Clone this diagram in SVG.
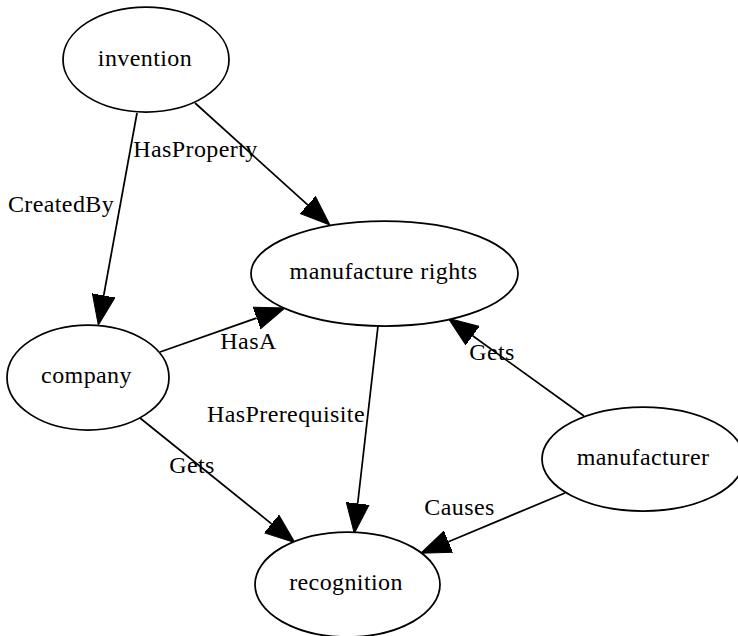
<svg xmlns="http://www.w3.org/2000/svg" width="738" height="636" viewBox="0 0 738 636">
<style>
.node ellipse{fill:#fff;stroke:#000;stroke-width:1.75}
text{font-family:"Liberation Serif","Times New Roman",serif;font-size:24px;letter-spacing:0.4px;text-anchor:middle;fill:#000}
.edge line{stroke:#000;stroke-width:1.75;fill:none;marker-end:url(#arr)}
</style>
<defs>
<marker id="arr" markerUnits="userSpaceOnUse" markerWidth="32" markerHeight="24" viewBox="0 -12 32 24" refX="0" refY="0" orient="auto">
<path d="M0,-11.5 L30,0 L0,11.5 Z" fill="#000" stroke="#000" stroke-width="1"/>
</marker>
</defs>
<rect width="738" height="636" fill="#fff"/>
<g id="edges" class="edge">
<line x1="137" y1="113" x2="103.7" y2="295.5"/>
<line x1="195" y1="103" x2="307.7" y2="204.9"/>
<line x1="160" y1="352" x2="256.7" y2="318"/>
<line x1="378" y1="326" x2="357.7" y2="503.5"/>
<line x1="140" y1="418" x2="271.6" y2="523.9"/>
<line x1="584" y1="416" x2="472.6" y2="335.8"/>
<line x1="565" y1="493" x2="448.4" y2="541.7"/>
<text x="61" y="212">CreatedBy</text>
<text x="195.5" y="157">HasProperty</text>
<text x="248.5" y="349">HasA</text>
<text x="286" y="422">HasPrerequisite</text>
<text x="192" y="473">Gets</text>
<text x="492" y="360">Gets</text>
<text x="459.5" y="515">Causes</text>
</g>
<g id="invention" class="node">
<ellipse cx="146" cy="59.5" rx="83" ry="52.5"/>
<text x="145" y="66">invention</text>
</g>
<g id="manufacture_rights" class="node">
<ellipse cx="384.5" cy="273.5" rx="133.5" ry="52.5"/>
<text x="383.5" y="279">manufacture rights</text>
</g>
<g id="company" class="node">
<ellipse cx="88" cy="377.5" rx="81" ry="52.5"/>
<text x="86.5" y="383">company</text>
</g>
<g id="manufacturer" class="node">
<ellipse cx="643" cy="459" rx="101" ry="52"/>
<text x="643" y="465">manufacturer</text>
</g>
<g id="recognition" class="node">
<ellipse cx="347.5" cy="584.5" rx="92.5" ry="52.5"/>
<text x="346" y="590">recognition</text>
</g>
</svg>
